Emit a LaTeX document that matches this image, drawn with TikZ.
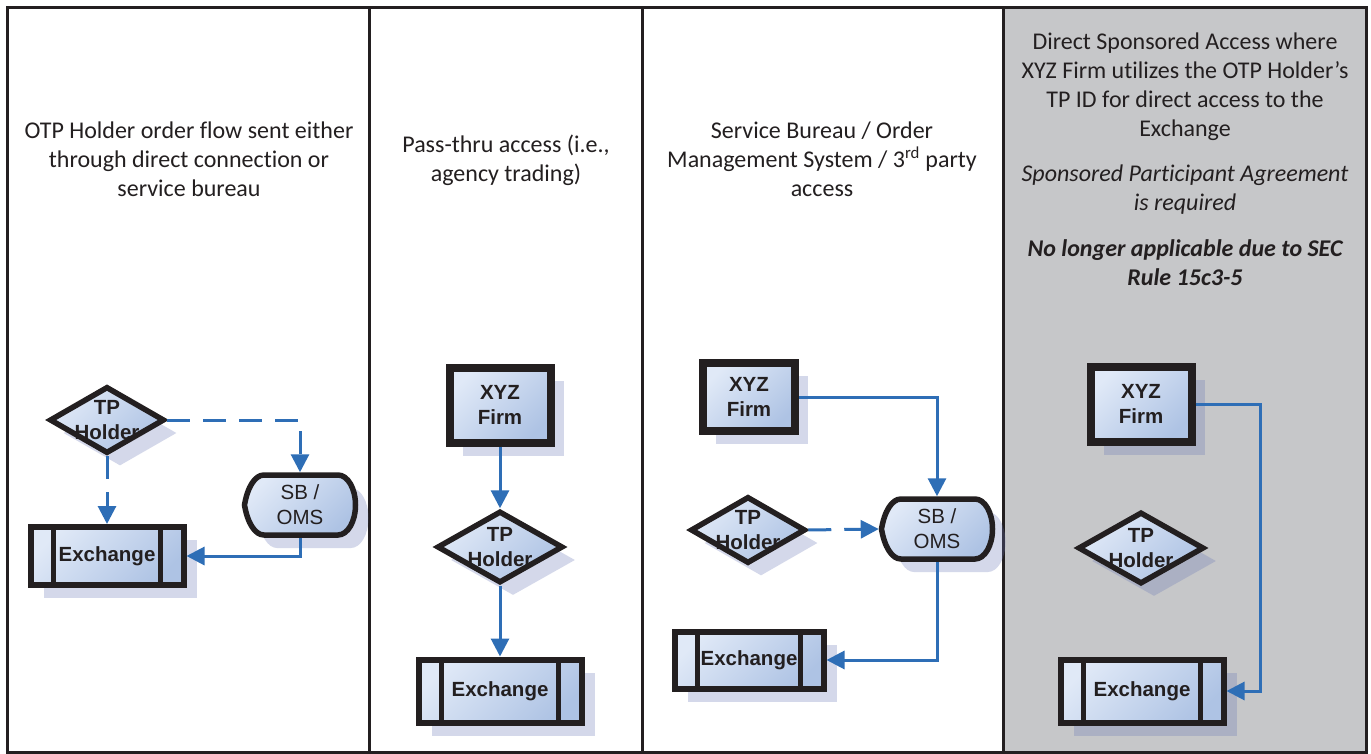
\documentclass[tikz,border=0pt]{standalone}
\usepackage{fontspec}
\setmainfont{Carlito}[Ligatures=NoCommon]
\newfontfamily\shapefont{Liberation Sans}
\usetikzlibrary{shapes.geometric,shadows,arrows.meta}
\definecolor{edge}{RGB}{35,31,32}
\definecolor{flow}{RGB}{46,110,182}
\definecolor{fillhi}{RGB}{224,233,247}
\definecolor{filllo}{RGB}{174,195,228}
\definecolor{shadowtint}{RGB}{104,117,182}
\definecolor{panelgray}{RGB}{198,199,201}

\begin{document}
\begin{tikzpicture}[x=1pt,y=-1pt,
    every node/.style={inner sep=0pt},
    blockfill/.style={top color=fillhi, bottom color=filllo, shading angle=45},
    castshadow/.style={drop shadow={shadow xshift=13pt, shadow yshift=-13pt, fill=shadowtint, opacity=0.28}},
    tag/.style={font=\shapefont\bfseries\fontsize{20.5}{25}\selectfont, text=edge, align=center},
    sbtag/.style={font=\shapefont\fontsize{20.5}{25}\selectfont, text=edge, align=center, outer sep=2.75pt},
    heading/.style={font=\fontsize{24}{29}\selectfont, text=edge, align=center},
    holder/.style={diamond, draw=edge, line width=5.5pt, blockfill, castshadow},
    firm/.style={rectangle, draw=edge, line width=8pt, blockfill, castshadow, tag},
    exchange/.style={rectangle, draw=edge, line width=6pt, blockfill, castshadow, tag,
        path picture={
            \draw[edge, line width=4.5pt]
                ([xshift=23pt]path picture bounding box.north west) -- ([xshift=23pt]path picture bounding box.south west)
                ([xshift=-23pt]path picture bounding box.north east) -- ([xshift=-23pt]path picture bounding box.south east);
        }},
    flowline/.style={draw=flow, line width=3pt, -{Triangle[length=18pt,width=18pt]}},
    flowdash/.style={flowline, dash pattern=on 23pt off 13pt}]

\useasboundingbox (0,0) rectangle (1371,754);
\fill[white] (0,0) rectangle (1371,754);
\fill[panelgray] (1003,7.5) rectangle (1366.5,752.5);
\draw[edge, line width=3pt] (7.5,7.5) rectangle (1366.5,752.5);
\foreach \x in {369,642,1003}
    \draw[edge, line width=3pt] (\x,7.5) -- (\x,752.5);

\node[heading] (head1) at (189,159) {OTP Holder order flow sent either\\through direct connection or\\service bureau};
\node[heading] (head2) at (506,160) {Pass-thru access (i.e.,\\agency trading)};
\node[heading] (head3) at (822,159) {Service Bureau / Order\\Management System / 3\textsuperscript{rd} party\\access};
\node[heading] (head4) at (1185,159) {Direct Sponsored Access where\\XYZ Firm utilizes the OTP Holder’s\\TP ID for direct access to the\\Exchange\\[16pt]
    \itshape Sponsored Participant Agreement\\\itshape is required\\[17pt]
    \bfseries\itshape No longer applicable due to SEC\\\bfseries\itshape Rule 15c3-5};

\foreach \cx/\cy in {300/505, 937/529} {
    \begin{scope}[shift={(\cx,\cy)}]
        \shade[blockfill, draw=edge, line width=5.5pt, castshadow]
            (-55.5,0) .. controls (-52.5,-18) and (-45,-30) .. (-36,-30) -- (38,-30)
            arc[start angle=-90, end angle=90, x radius=17.5, y radius=30]
            -- (-36,30) .. controls (-45,30) and (-52.5,18) .. (-55.5,0) -- cycle;
    \end{scope}
}

\node[holder, minimum width=115pt, minimum height=67pt, label={[tag]center:TP\\Holder}] (tp1) at (107,420) {};
\node[sbtag, minimum width=111pt, minimum height=60pt] (sb1) at (300,505) {SB /\\OMS};
\node[exchange, minimum width=153pt, minimum height=58pt] (ex1) at (107,556) {Exchange};

\node[firm, minimum width=101pt, minimum height=75pt] (fm2) at (500,405) {XYZ\\Firm};
\node[holder, minimum width=126pt, minimum height=72pt, label={[tag]center:TP\\Holder}] (tp2) at (500,547) {};
\node[exchange, minimum width=163pt, minimum height=63pt] (ex2) at (500,691) {Exchange};

\node[firm, minimum width=92pt, minimum height=68pt] (fm3) at (749,397) {XYZ\\Firm};
\node[holder, minimum width=115pt, minimum height=67pt, label={[tag]center:TP\\Holder}] (tp3) at (748,530) {};
\node[sbtag, minimum width=111pt, minimum height=60pt] (sb3) at (937,529) {SB /\\OMS};
\node[exchange, minimum width=149pt, minimum height=57pt] (ex3) at (749,660) {Exchange};

\node[firm, minimum width=101pt, minimum height=75pt] (fm4) at (1141,404) {XYZ\\Firm};
\node[holder, minimum width=126pt, minimum height=72pt, label={[tag]center:TP\\Holder}] (tp4) at (1141,548) {};
\node[exchange, minimum width=163pt, minimum height=63pt] (ex4) at (1142,691) {Exchange};
\coordinate (bend4) at (1260,404);

\draw[flowdash] (tp1.south) -- (ex1.north);
\draw[flowdash] (tp1.east) -| (sb1.north);
\draw[flowline] (sb1.south) |- (ex1.east);
\draw[flowline] (fm2.south) -- (tp2.north);
\draw[flowline] (tp2.south) -- (ex2.north);
\draw[flowline] (fm3.east) -| (sb3.north);
\draw[flowdash] (tp3.east) -- (sb3.west);
\draw[flowline] (sb3.south) |- (ex3.east);
\draw[flowline] (fm4.east) -- (bend4) |- (ex4.east);
\end{tikzpicture}
\end{document}
